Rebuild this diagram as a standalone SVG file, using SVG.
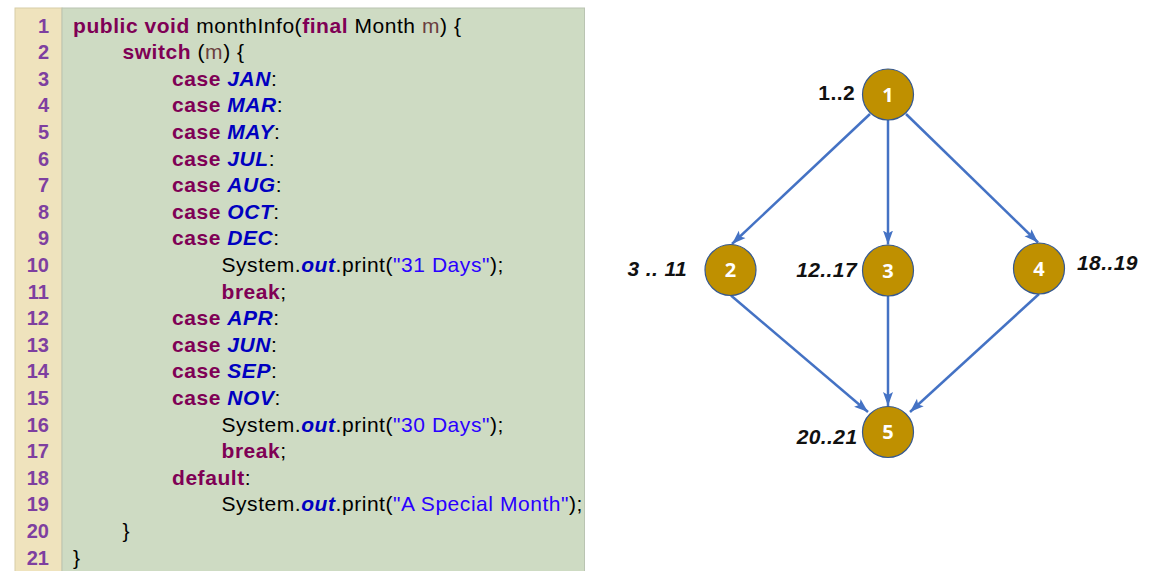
<svg xmlns="http://www.w3.org/2000/svg" width="1162" height="571" viewBox="0 0 1162 571">
<defs>
<style>
.code{font-family:"Liberation Sans",Arial,sans-serif;font-size:21px;letter-spacing:0.55px;fill:#000}
.k{fill:#7F0055;font-weight:bold}
.c{fill:#0000C0;font-weight:bold;font-style:italic}
.s{fill:#2A00FF}
.p{fill:#6A3E3E}
.ln{font-family:"Liberation Sans",Arial,sans-serif;font-size:20px;font-weight:bold;fill:#7E3FA0;text-anchor:end}
.node circle{fill:#BF9000;stroke:#35588F;stroke-width:1.2}
.node .num{font-family:"Open Sans","Liberation Sans",Arial,sans-serif;font-size:20px;font-weight:bold;fill:#fff;text-anchor:middle}
.node .lbl{font-family:"Liberation Sans",Arial,sans-serif;font-size:21px;font-weight:bold;font-style:italic;fill:#111;letter-spacing:0.4px}
.edge{stroke:#4472C4;stroke-width:2.5;fill:none;marker-end:url(#arr)}
</style>
<marker id="arr" markerUnits="userSpaceOnUse" markerWidth="15" markerHeight="13" viewBox="0 0 15 13" refX="14" refY="6.5" orient="auto">
<path d="M0,1.5 L14,6.5 L0,11.5 L3,6.5 Z" fill="#4472C4"/>
</marker>
</defs>
<rect width="1162" height="571" fill="#fff"/>
<g id="code-panel">
<rect x="15" y="8" width="47" height="570" fill="#EFE3BD" stroke="#D8CDA8" stroke-width="1"/>
<rect x="62" y="8" width="522.5" height="570" fill="#CEDBC3" stroke="#BAC4B2" stroke-width="1"/>
<g class="ln">
<text x="49" y="32.5">1</text>
<text x="49" y="59.1">2</text>
<text x="49" y="85.7">3</text>
<text x="49" y="112.3">4</text>
<text x="49" y="138.9">5</text>
<text x="49" y="165.5">6</text>
<text x="49" y="192.1">7</text>
<text x="49" y="218.7">8</text>
<text x="49" y="245.3">9</text>
<text x="49" y="271.9">10</text>
<text x="49" y="298.5">11</text>
<text x="49" y="325.1">12</text>
<text x="49" y="351.7">13</text>
<text x="49" y="378.3">14</text>
<text x="49" y="404.9">15</text>
<text x="49" y="431.5">16</text>
<text x="49" y="458.1">17</text>
<text x="49" y="484.7">18</text>
<text x="49" y="511.3">19</text>
<text x="49" y="537.9">20</text>
<text x="49" y="564.5">21</text>
</g>
<g class="code" xml:space="preserve">
<text x="73" y="32.5"><tspan class="k">public void</tspan> monthInfo(<tspan class="k">final</tspan> Month <tspan class="p">m</tspan>) {</text>
<text x="122.5" y="59.1"><tspan class="k">switch</tspan> (<tspan class="p">m</tspan>) {</text>
<text x="172" y="85.7"><tspan class="k">case</tspan> <tspan class="c">JAN</tspan>:</text>
<text x="172" y="112.3"><tspan class="k">case</tspan> <tspan class="c">MAR</tspan>:</text>
<text x="172" y="138.9"><tspan class="k">case</tspan> <tspan class="c">MAY</tspan>:</text>
<text x="172" y="165.5"><tspan class="k">case</tspan> <tspan class="c">JUL</tspan>:</text>
<text x="172" y="192.1"><tspan class="k">case</tspan> <tspan class="c">AUG</tspan>:</text>
<text x="172" y="218.7"><tspan class="k">case</tspan> <tspan class="c">OCT</tspan>:</text>
<text x="172" y="245.3"><tspan class="k">case</tspan> <tspan class="c">DEC</tspan>:</text>
<text x="221.5" y="271.9">System.<tspan class="c">out</tspan>.print(<tspan class="s">"31 Days"</tspan>);</text>
<text x="221.5" y="298.5"><tspan class="k">break</tspan>;</text>
<text x="172" y="325.1"><tspan class="k">case</tspan> <tspan class="c">APR</tspan>:</text>
<text x="172" y="351.7"><tspan class="k">case</tspan> <tspan class="c">JUN</tspan>:</text>
<text x="172" y="378.3"><tspan class="k">case</tspan> <tspan class="c">SEP</tspan>:</text>
<text x="172" y="404.9"><tspan class="k">case</tspan> <tspan class="c">NOV</tspan>:</text>
<text x="221.5" y="431.5">System.<tspan class="c">out</tspan>.print(<tspan class="s">"30 Days"</tspan>);</text>
<text x="221.5" y="458.1"><tspan class="k">break</tspan>;</text>
<text x="172" y="484.7"><tspan class="k">default</tspan>:</text>
<text x="221.5" y="511.3">System.<tspan class="c">out</tspan>.print(<tspan class="s">"A Special Month"</tspan>);</text>
<text x="122.5" y="537.9">}</text>
<text x="73" y="564.5">}</text>
</g>
</g>
<g id="connectors">
<line class="edge" x1="870" y1="114" x2="732" y2="244"/>
<line class="edge" x1="888" y1="120" x2="888" y2="244.5"/>
<line class="edge" x1="906" y1="114" x2="1038" y2="242.5"/>
<line class="edge" x1="731" y1="295.5" x2="868" y2="412"/>
<line class="edge" x1="888" y1="296" x2="888" y2="406"/>
<line class="edge" x1="1039" y1="294" x2="910" y2="412"/>
</g>
<g id="node1" class="node">
<circle cx="888" cy="94.5" r="25.5"/>
<text class="num" x="888" y="101.5">1</text>
<text class="lbl" x="855" y="100" text-anchor="end" style="font-style:normal">1..2</text>
</g>
<g id="node2" class="node">
<circle cx="730.5" cy="270" r="25.5"/>
<text class="num" x="730.5" y="277">2</text>
<text class="lbl" x="687" y="275.5" text-anchor="end">3 .. 11</text>
</g>
<g id="node3" class="node">
<circle cx="888" cy="270.5" r="25.5"/>
<text class="num" x="888" y="277.5">3</text>
<text class="lbl" x="857" y="277.3" text-anchor="end">12..17</text>
</g>
<g id="node4" class="node">
<circle cx="1039" cy="268.5" r="25.5"/>
<text class="num" x="1039" y="275.5">4</text>
<text class="lbl" x="1077" y="269.6">18..19</text>
</g>
<g id="node5" class="node">
<circle cx="888" cy="432" r="25.5"/>
<text class="num" x="888" y="439">5</text>
<text class="lbl" x="857.5" y="444" text-anchor="end">20..21</text>
</g>
</svg>
